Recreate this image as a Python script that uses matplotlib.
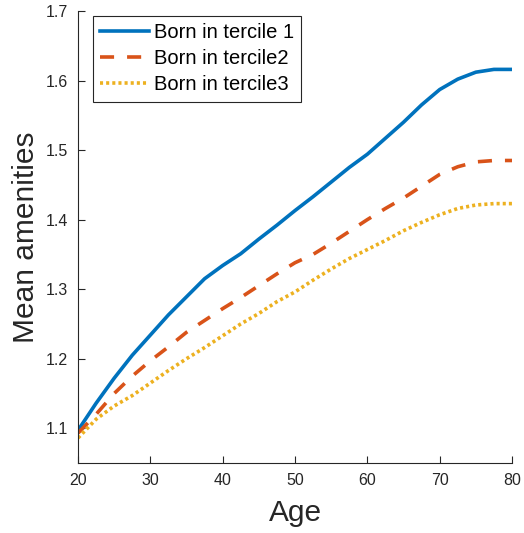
import numpy as np
import matplotlib
matplotlib.use("Agg")
import matplotlib.pyplot as plt

# values
age = [20, 22.5, 25, 27.5, 30, 32.5, 35, 37.5, 40, 42.5, 45, 47.5, 50, 52.5,
       55, 57.5, 60, 62.5, 65, 67.5, 70, 72.5, 75, 77.5, 80]
tercile1 = [1.097, 1.136, 1.172, 1.205, 1.234, 1.263, 1.289, 1.315, 1.334, 1.351,
            1.372, 1.392, 1.413, 1.433, 1.454, 1.475, 1.494, 1.517, 1.540, 1.565,
            1.587, 1.602, 1.612, 1.616, 1.616]
tercile2 = [1.093, 1.120, 1.150, 1.175, 1.197, 1.217, 1.238, 1.255, 1.272, 1.288,
            1.305, 1.322, 1.338, 1.350, 1.366, 1.383, 1.400, 1.416, 1.431, 1.448,
            1.465, 1.476, 1.483, 1.485, 1.485]
tercile3 = [1.086, 1.113, 1.132, 1.147, 1.165, 1.183, 1.200, 1.216, 1.233, 1.250,
            1.265, 1.282, 1.296, 1.313, 1.329, 1.344, 1.357, 1.370, 1.384, 1.396,
            1.407, 1.416, 1.421, 1.423, 1.423]
labels = ['Born in tercile 1', 'Born in tercile2', 'Born in tercile3']

plt.rcParams['font.family'] = ['Liberation Sans', 'DejaVu Sans']

fig = plt.figure(figsize=(5.24, 5.33), dpi=100)
ax = fig.add_axes([0.1489, 0.1313, 0.9771 - 0.1489, 0.9794 - 0.1313])

lw = 2.6
ax.plot(age, tercile1, color='#0072BD', lw=lw, label=labels[0])
ax.plot(age, tercile2, color='#D95319', lw=lw, linestyle=(0, (3.9, 3.6)),
        dash_capstyle='butt', label=labels[1])
ax.plot(age, tercile3, color='#EDB120', lw=lw, linestyle=(0, (0.85, 0.85)),
        dash_capstyle='butt', label=labels[2])

ax.set_xlim(20, 80)
ax.set_ylim(1.05, 1.7)
ax.set_xticks(np.arange(20, 81, 10))
ax.set_yticks(np.arange(1.1, 1.71, 0.1))
ax.set_yticklabels(['1.1', '1.2', '1.3', '1.4', '1.5', '1.6', '1.7'])

for side in ['top', 'right']:
    ax.spines[side].set_visible(False)
for side in ['left', 'bottom']:
    ax.spines[side].set_color('#262626')
    ax.spines[side].set_linewidth(0.8)
ax.tick_params(direction='in', length=5, width=0.8, colors='#262626',
               labelsize=11.5, pad=7)

ax.set_xlabel('Age', fontsize=21.5, color='#262626', labelpad=8)
ax.set_ylabel('Mean amenities', fontsize=21.5, color='#262626', labelpad=4)

leg = ax.legend(loc='upper left', bbox_to_anchor=(0.034, 0.99), fontsize=14.5,
                frameon=True, fancybox=False, framealpha=1, edgecolor='#262626',
                handlelength=2.45, handletextpad=0.25, borderpad=0.35,
                labelspacing=0.37, borderaxespad=0)
leg.get_frame().set_linewidth(0.8)

fig.savefig('out.png', dpi=100)
